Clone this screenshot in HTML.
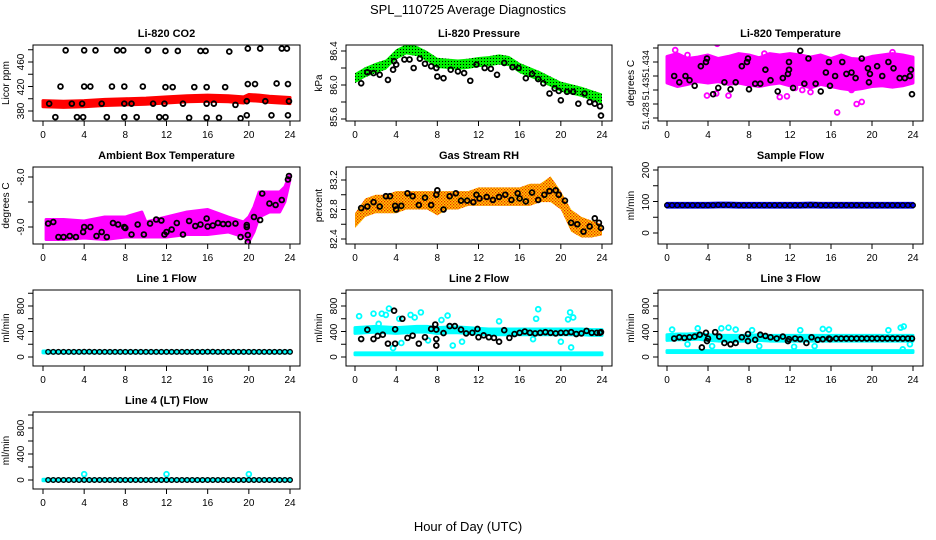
<!DOCTYPE html>
<html><head><meta charset="utf-8"><style>
html,body{margin:0;padding:0;background:#fff;}
svg{display:block;font-family:"Liberation Sans",sans-serif;}
</style></head><body>
<svg id="c" width="936" height="540" viewBox="0 0 936 540" xmlns="http://www.w3.org/2000/svg">
<defs>
<pattern id="pGreen" width="3" height="3" patternUnits="userSpaceOnUse"><rect width="3" height="3" fill="#00ee00"/><rect x="1" y="1" width="1" height="1" fill="#000"/></pattern>
<pattern id="pOrange" width="3" height="3" patternUnits="userSpaceOnUse"><rect width="3" height="3" fill="#ffcc00"/><rect x="0" y="0" width="1.3" height="1.3" fill="#ee2200"/><rect x="1.5" y="1.5" width="1.3" height="1.3" fill="#ee3300"/></pattern>
</defs>
<text x="468" y="14" text-anchor="middle" font-size="13">SPL_110725  Average Diagnostics</text>
<text x="468" y="531" text-anchor="middle" font-size="13">Hour of Day (UTC)</text>
</svg>
<script>
// ---- data ----
const xTicks = [0,4,8,12,16,20,24];
// CO2
const co2PtH = [2.2,4.0,5.1,7.2,7.8,10.2,11.9,13.1,15.3,15.8,18.1,19.9,21.1,23.2,23.7, 1.7,4.0,4.6,6.7,7.9,9.7,11.9,12.6,14.7,15.9,17.7,19.9,20.6,22.7,23.8, 0.6,2.8,3.8,5.7,7.9,8.6,10.7,11.8,13.6,15.9,16.6,18.7,19.8,21.6,23.9, 1.2,3.3,3.9,6.2,7.9,9.1,11.3,11.9,14.2,15.9,17.1,19.2,19.8,22.2,23.8];
const co2PtV = [479,479,479,479,479,479,478,478,478,478,477,482,482,482,482, 420,420,420,420,420,420,419,419,419,419,419,424,424,425,424, 392,392,392,392,392,392,392,392,392,392,392,390,396,396,396, 370,370,370,370,370,370,370,370,369,369,369,368,373,373,373];
const co2BandH = [0,2,4,6,8,10,12,14,16,18,19.5,20,21,22,24];
const co2BandMid = [392,391,392,394,395,396,398,400,401,400,398,402,401,399,397];
// Pressure
const presBandH = [0,1,2,3,4,5,6,7,8,9,10,11,12,13,14,15,16,17,18,19,20,21,22,23,24];
const presBandMid = [86.08,86.15,86.2,86.24,86.36,86.42,86.4,86.34,86.26,86.25,86.24,86.25,86.27,86.28,86.3,86.28,86.2,86.15,86.1,86.04,85.98,85.95,85.92,85.88,85.84];
const presPtH = [0.6,1.2,1.8,2.4,3.2,3.7,3.8,4.0,4.8,5.3,5.7,6.3,6.8,7.4,7.9,8.0,8.6,9.3,10.0,10.6,11.2,11.8,12.6,13.2,13.8,14.5,15.3,15.9,16.6,17.2,17.8,18.3,18.9,19.4,19.8,20.0,20.6,21.2,21.7,22.3,22.8,23.3,23.8,23.9];
const presPtV = [86.02,86.15,86.14,86.12,86.06,86.18,86.28,86.24,86.3,86.3,86.2,86.31,86.25,86.22,86.2,86.1,86.08,86.18,86.16,86.14,86.05,86.24,86.2,86.19,86.12,86.26,86.21,86.2,86.08,86.13,86.07,86.02,85.9,85.96,85.93,85.82,85.92,85.92,85.78,85.9,85.8,85.78,85.75,85.64];
// Li-820 temperature
const tempBandH = [0,1,2,3,4,5,6,7,8,9,10,11,12,13,14,15,16,17,18,19,20,21,22,23,24];
const tempBandLo = [51.4310,51.4305,51.4308,51.4312,51.4310,51.4312,51.4308,51.4310,51.4307,51.4305,51.4308,51.4310,51.4306,51.4308,51.4303,51.4308,51.4305,51.4302,51.4300,51.4302,51.4305,51.4306,51.4304,51.4306,51.4310];
const tempBandHi = [51.4348,51.4352,51.4345,51.4347,51.4350,51.4345,51.4348,51.4352,51.4350,51.4346,51.4352,51.4350,51.4352,51.4350,51.4347,51.4350,51.4345,51.4350,51.4345,51.4344,51.4348,51.4350,51.4352,51.4350,51.4347];
const tempOutH = [0.8,4.9,3.9,4.8,6.0,11.0,11.7,12.5,13.2,14.0,16.6,18.5,19.0,17.3,18.0,2.0,9.5,22.0];
const tempOutV = [51.4357,51.4366,51.4292,51.4295,51.4292,51.4290,51.4291,51.4303,51.4300,51.4297,51.4268,51.4280,51.4283,51.4305,51.4300,51.4350,51.4352,51.4354];
const tempPtH = [0.7,1.2,1.8,2.2,2.7,3.3,3.8,3.9,4.5,5.0,5.6,6.2,6.7,7.3,7.8,7.9,8.0,8.6,9.1,9.6,10.1,10.8,11.3,11.8,11.9,11.9,12.3,13.0,13.4,13.8,14.5,15.0,15.5,15.8,15.9,16.4,17.1,17.5,18.0,18.4,19.0,19.6,19.7,19.8,20.5,21.0,21.6,22.1,22.7,23.2,23.7,23.8,23.9];
const tempPtV = [51.4320,51.4311,51.4320,51.4314,51.4306,51.4334,51.4340,51.4345,51.4294,51.4303,51.4311,51.4301,51.4311,51.4334,51.4340,51.4345,51.4301,51.4309,51.4309,51.4329,51.4314,51.4298,51.4317,51.4323,51.4340,51.4329,51.4303,51.4356,51.4309,51.4345,51.4309,51.4298,51.4325,51.4340,51.4306,51.4320,51.4340,51.4323,51.4325,51.4317,51.4345,51.4331,51.4311,51.4323,51.4334,51.4320,51.4340,51.4331,51.4317,51.4317,51.4320,51.4329,51.4294];
// Ambient box temp
const ambBandH = [0.3,2,4,6,8,9.6,10,12,14,16,18,19.5,20,20.5,21,22,23,23.5,24];
const ambBandLo = [-9.25,-9.25,-9.22,-9.25,-9.2,-9.2,-9.2,-9.2,-9.15,-9.15,-9.1,-9.2,-9.3,-9.1,-8.8,-8.7,-8.7,-8.5,-8.05];
const ambBandHi = [-8.85,-8.85,-8.88,-8.8,-8.8,-8.7,-8.9,-8.8,-8.7,-8.65,-8.8,-8.9,-8.8,-8.6,-8.3,-8.3,-8.3,-8.2,-7.95];
const ambPtH = [0.5,1,1.5,2,2.6,3.2,3.9,4,4.6,5.2,5.7,6.2,6.8,7.3,7.9,8,8.6,9.2,9.8,10.4,11,11.5,11.8,12,12.5,13,13.6,14.2,14.8,15.3,15.9,16,16.5,17,17.5,18,18.7,19.2,19.8,19.8,19.9,19.9,20.5,21.1,21.3,22,22.6,23.2,23.8,23.9];
const ambPtV = [-8.93,-8.9,-9.2,-9.2,-9.18,-9.2,-9.1,-9.0,-9.0,-9.18,-9.1,-9.2,-8.92,-8.95,-9.0,-9.02,-9.15,-8.95,-9.15,-8.93,-8.85,-8.87,-9.15,-9.1,-9.05,-8.92,-9.15,-8.88,-8.98,-8.95,-8.83,-8.99,-8.97,-8.92,-8.94,-8.94,-8.93,-9.2,-8.96,-9.0,-9.16,-9.3,-8.8,-8.86,-8.33,-8.53,-8.56,-8.46,-8.05,-7.98];
// Gas stream RH
const rhBandH = [0,1,2,3,4,5,6,7,8,9,10,11,12,13,14,15,16,17,18,19,20,21,22,23,24];
const rhBandLo = [82.55,82.7,82.75,82.75,82.75,82.8,82.8,82.8,82.72,82.8,82.8,82.85,82.85,82.85,82.85,82.85,82.85,82.85,82.9,82.9,82.8,82.5,82.42,82.42,82.45];
const rhBandHi = [82.75,82.95,83.0,83.0,83.05,83.05,83.05,83.05,83.05,83.05,83.05,83.05,83.1,83.1,83.1,83.1,83.1,83.15,83.15,83.25,83.05,82.8,82.7,82.65,82.6];
const rhPtH = [0.6,1.2,1.8,2.4,3,3.4,3.9,4,4.5,5.1,5.6,6.2,6.8,7.4,7.9,8,8.6,9.2,9.8,10.3,10.9,11.5,11.8,12.1,12.8,13.4,14,14.6,15.2,15.8,16,16.6,17.2,17.8,18.4,18.9,19.5,19.8,20.4,21,21.6,22.2,22.8,23.3,23.7,23.9];
const rhPtV = [82.82,82.84,82.9,82.84,82.98,82.98,82.85,82.8,82.85,83.02,82.98,82.86,82.96,82.86,83.0,83.06,82.8,82.98,83.02,82.92,82.92,82.9,83.0,82.95,82.97,82.93,82.97,83.0,82.93,83.02,82.95,82.91,83.03,82.93,83.0,83.05,83.06,83.0,82.92,82.62,82.6,82.5,82.57,82.68,82.62,82.55];
// Flows: levels per hour
const sampleLevel = [88,88,88,88,88,89,89,88,88,88,88,88,88,88,89,88,88,88,88,88,88,88,88,88,88];
const line1Level = [80,80,80,80,82,80,80,80,80,80,80,80,80,80,80,80,82,80,80,80,80,80,80,80,80];
const line2Upper = [420,430,440,430,420,430,440,440,420,430,430,420,410,400,400,400,400,400,400,400,400,400,400,390,390];
const line2Lower = [50,50,50,50,50,50,50,50,50,50,50,50,50,50,50,50,50,50,50,50,50,50,50,50,50];
const line3Upper = [310,320,320,330,310,300,300,300,300,310,300,300,300,300,300,300,300,300,300,300,300,300,300,300,300];
const line3Lower = [85,85,85,85,85,85,85,85,85,85,85,85,85,85,85,85,85,85,85,85,85,85,85,85,85];
const line4Level = [0,0,0,0,0,0,0,0,0,0,0,0,0,0,0,0,0,0,0,0,0,0,0,0,0];
const hourGrid = [0,1,2,3,4,5,6,7,8,9,10,11,12,13,14,15,16,17,18,19,20,21,22,23,24];
const line2PtH = [0.6,1.2,1.8,2.2,2.7,3.2,3.8,3.9,3.9,4.6,5.1,5.6,6.2,6.8,7.4,7.8,7.9,7.9,7.9,8.6,9.2,9.7,10.3,10.8,11.4,11.9,12.0,12.5,13.0,13.5,14.0,14.5,15.0,15.5,16.0,16.5,17.0,17.5,18.0,18.5,19.0,19.5,20.0,20.5,21.0,21.5,22.0,22.5,23.0,23.5,23.8,23.9];
const line2PtV = [282,428,282,330,350,210,726,435,210,600,300,335,210,310,440,510,430,282,180,375,485,485,430,370,380,440,310,340,310,300,240,420,300,360,380,400,380,370,380,390,380,370,380,380,390,360,370,410,380,380,380,390];
const line2OutH = [0.4,1.8,2.3,2.6,3.0,3.3,3.7,4.3,4.5,5.4,5.8,6.4,7.1,8.4,9.0,9.5,10.4,14.0,17.6,17.8,17.3,20.0,20.7,20.9,21.2,21.0];
const line2OutV = [640,680,520,680,660,760,140,600,220,660,620,700,260,580,650,180,240,560,600,750,280,240,590,700,620,150];
const line3PtH = [0.7,1.2,1.7,2.2,2.7,3.2,3.4,3.8,3.9,4.0,4.7,5.1,5.6,6.2,6.7,7.3,7.9,7.9,8.6,9.1,9.6,10.1,10.7,11.3,11.8,11.9,12.5,13.0,13.6,14.1,14.7,15.2,15.8,15.9,16.5,17,17.5,18,18.5,19,19.5,20,20.5,21,21.5,22,22.5,23,23.5,23.9];
const line3PtV = [290,310,300,310,320,350,150,380,250,290,390,320,220,200,220,310,360,250,270,350,330,310,290,320,250,280,290,280,220,310,270,280,290,280,290,290,290,290,290,290,290,290,290,290,290,290,290,290,290,290];
const line3OutH = [0.5,2.0,3.0,4.4,5.3,6.0,6.7,8.3,9.0,12.4,14.4,13.0,15.2,15.8,21.6,22.8,23.1,23.7,23.0];
const line3OutV = [430,200,450,170,450,460,430,420,170,160,170,420,440,430,420,460,480,200,120];
const line4OutH = [4,12,20];
const line4OutV = [90,90,90];

// ---- layout ----
const svg = document.getElementById('c');
const NS = 'http://www.w3.org/2000/svg';
const colBox = [[33,300],[346,612],[658,923]];
const colX = [[43,290],[355,602],[667,913]];
const rowBox = [[45,121],[167,244],[290,366],[412,489]];
function mk(tag, attrs, parent){ const e=document.createElementNS(NS,tag); for(const k in attrs) e.setAttribute(k,attrs[k]); (parent||svg).appendChild(e); return e; }
function xs(col,h){ return colX[col][0] + h*(colX[col][1]-colX[col][0])/24; }
function makeY(v0,p0,v1,p1){ return v=> p0 + (v-v0)*(p1-p0)/(v1-v0); }

let clipN=0;
function panel(col,row,title,ylab,yfn,ticks,labels,labelPos,name,lfs){
  const g = mk('g',{});
  
  
  const [L,R]=colBox[col],[T,B]=rowBox[row];
  const cid='clip'+(clipN++);
  const cp=mk('clipPath',{id:cid},g); mk('rect',{x:L,y:T,width:R-L,height:B-T},cp);
  const data=mk('g',{'clip-path':'url(#'+cid+')'},g);
  
  
  const t=mk('text',{x:(L+R)/2,y:T-8,'text-anchor':'middle','font-size':11,'font-weight':'bold'},g); t.textContent=title;
  
  
  const yl=mk('text',{x:0,y:0,'text-anchor':'middle','font-size':10,transform:`translate(${L-24},${(T+B)/2}) rotate(-90)`},g); yl.textContent=ylab;
  
  
  mk('line',{x1:colX[col][0],x2:colX[col][1],y1:B,y2:B,stroke:'#000'},g);
  xTicks.forEach(h=>{ const x=xs(col,h); mk('line',{x1:x,x2:x,y1:B,y2:B+5,stroke:'#000'},g);
    const tx=mk('text',{x:x,y:B+17,'text-anchor':'middle','font-size':10},g); tx.textContent=h;
    
     });
  const yp=ticks.map(yfn);
  mk('line',{x1:L,x2:L,y1:Math.min(...yp),y2:Math.max(...yp),stroke:'#000'},g);
  yp.forEach(y=>mk('line',{x1:L,x2:L-5,y1:y,y2:y,stroke:'#000'},g));
  labels.forEach((lb,i)=>{ const y=labelPos[i];
    const tx=mk('text',{x:0,y:0,'text-anchor':'middle','font-size':lfs||10,transform:`translate(${L-9},${y}) rotate(-90)`},g); tx.textContent=lb;
    
     });
  mk('rect',{x:L,y:T,width:R-L,height:B-T,fill:'none',stroke:'#000'},g);
  return {g:data,col,yfn};
}
function band(p,H,lo,hi,fill){ const pts=[]; H.forEach((h,i)=>pts.push(xs(p.col,h)+','+p.yfn(hi[i]))); for(let i=H.length-1;i>=0;i--) pts.push(xs(p.col,H[i])+','+p.yfn(lo[i]));
  const e=mk('polygon',{points:pts.join(' '),fill:fill,stroke:fill.startsWith('url')?'none':fill,'stroke-width':3,'stroke-linejoin':'round'},p.g);
    }
function pts(p,H,V,color,r,w){ H.forEach((h,i)=>{ const c=mk('circle',{cx:xs(p.col,h),cy:p.yfn(V[i]),r:r||2.4,fill:'none',stroke:color,'stroke-width':w||1.8},p.g);
    }); }
function off(arr,d){ return arr.map(v=>v+d); }

let p=panel(0,0,'Li-820 CO2','Licor ppm',makeY(460,62,380,111),[380,400,420,440,460,480],['380','420','460'],[111,87,62],'co2');
band(p,co2BandH,off(co2BandMid,-5),off(co2BandMid,5),'#ff0000');
pts(p,co2PtH,co2PtV,'#000');
p=panel(1,0,'Li-820 Pressure','kPa',makeY(86.4,51,86.0,85),[85.6,85.8,86.0,86.2,86.4],['85.6','86.0','86.4'],[117,85,51],'pressure');
band(p,presBandH,off(presBandMid,-0.06),off(presBandMid,0.06),'url(#pGreen)');
pts(p,presPtH,presPtV,'#000');
p=panel(2,0,'Li-820 Temperature','degrees C',makeY(51.434,62,51.430,90),[51.426,51.428,51.430,51.432,51.434,51.436],['51.428','51.43','51.434'],[116,89,64],'li820-temp',9);
band(p,tempBandH,tempBandLo,tempBandHi,'#ff00ff');
pts(p,tempOutH,tempOutV,'#ff00ff');
pts(p,tempPtH,tempPtV,'#000');
p=panel(0,1,'Ambient Box Temperature','degrees C',makeY(-8,177,-9,227),[-9.0,-8.5,-8.0],['-9.0','-8.0'],[227,177],'ambient-temp');
band(p,ambBandH,ambBandLo,ambBandHi,'#ff00ff');
pts(p,ambPtH,ambPtV,'#000');
p=panel(1,1,'Gas Stream RH','percent',makeY(83.2,180,82.4,239),[82.4,82.6,82.8,83.0,83.2],['82.4','82.8','83.2'],[239,209,180],'gas-rh');
band(p,rhBandH,rhBandLo,rhBandHi,'url(#pOrange)');
pts(p,rhPtH,rhPtV,'#000');
p=panel(2,1,'Sample Flow','ml/min',makeY(200,170,0,233),[0,50,100,150,200],['0','100','200'],[233,202,170],'sample-flow');
band(p,hourGrid,off(sampleLevel,-6),off(sampleLevel,6),'#0000ff');
pts(p,hourGrid.concat(hourGrid.map(h=>h+0.5).slice(0,24)),sampleLevel.concat(sampleLevel.slice(0,24)),'#000',2.3,1.4);
const flowTicks=[0,200,400,600,800,1000];
p=panel(0,2,'Line 1 Flow','ml/min',makeY(0,357,800,306),flowTicks,['0','400','800'],[357,332,306],'line1-flow');
band(p,hourGrid,off(line1Level,-15),off(line1Level,15),'#00ffff');
pts(p,hourGrid.map(h=>h+0.5).slice(0,24),line1Level.slice(0,24),'#000',2.3,1.4);
pts(p,hourGrid.slice(1),line1Level.slice(1),'#000',2.3,1.4);
p=panel(1,2,'Line 2 Flow','ml/min',makeY(0,357,800,306),flowTicks,['0','400','800'],[357,332,306],'line2-flow');
band(p,hourGrid,off(line2Lower,-15),off(line2Lower,15),'#00ffff');
band(p,hourGrid,off(line2Upper,-50),off(line2Upper,40),'#00ffff');
pts(p,line2OutH,line2OutV,'#00ffff');
pts(p,line2PtH,line2PtV,'#000');
p=panel(2,2,'Line 3 Flow','ml/min',makeY(0,357,800,306),flowTicks,['0','400','800'],[357,332,306],'line3-flow');
band(p,hourGrid,off(line3Lower,-15),off(line3Lower,15),'#00ffff');
band(p,hourGrid,off(line3Upper,-50),off(line3Upper,40),'#00ffff');
pts(p,line3OutH,line3OutV,'#00ffff');
pts(p,line3PtH,line3PtV,'#000');
p=panel(0,3,'Line 4 (LT) Flow','ml/min',makeY(0,480,800,428),flowTicks,['0','400','800'],[480,454,428],'line4-flow');
band(p,hourGrid,off(line4Level,-12),off(line4Level,12),'#00ffff');
pts(p,line4OutH,line4OutV,'#00ffff');
pts(p,hourGrid.map(h=>h+0.5).slice(0,24),line4Level.slice(0,24),'#000',2.3,1.4);
pts(p,hourGrid.slice(1),line4Level.slice(1),'#000',2.3,1.4);
</script>
</body></html>
